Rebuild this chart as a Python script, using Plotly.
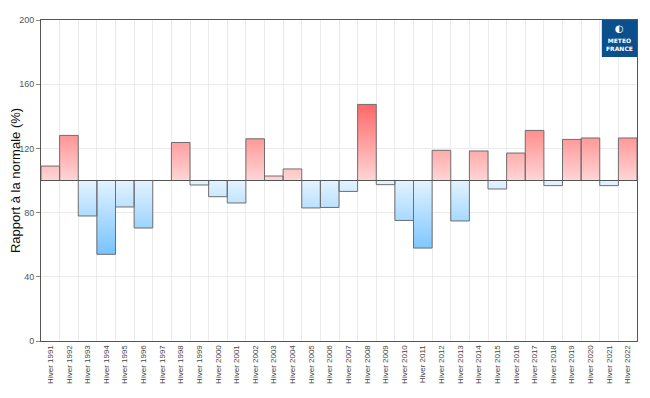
import plotly.graph_objects as go

years = list(range(1991, 2023))
labels = [f"Hiver {y}" for y in years]
values = [109.0, 128.1, 77.9, 54.0, 83.5, 70.4, 100.0, 123.7, 97.2, 89.9,
          86.0, 126.0, 102.8, 107.2, 82.9, 83.2, 93.2, 147.4, 97.4, 75.1,
          57.9, 118.8, 74.8, 118.4, 94.7, 117.1, 131.2, 96.8, 125.6, 126.5,
          96.8, 126.5]
normal = 100
y_ticks = [0, 40, 80, 120, 160, 200]


def polygons(pred):
    xs, ys = [], []
    for i, v in enumerate(values):
        if pred(v):
            xs += [i - 0.5, i - 0.5, i + 0.5, i + 0.5, i - 0.5, None]
            ys += [normal, v, v, normal, normal, None]
    return xs, ys


fig = go.Figure()

rx, ry = polygons(lambda v: v >= normal)
fig.add_trace(go.Scatter(
    x=rx, y=ry, mode="lines", fill="toself",
    line=dict(color="#6e6e6e", width=1),
    fillgradient=dict(type="vertical",
                      colorscale=[[0, "#ffd6d6"], [1, "#ff6262"]],
                      start=100, stop=150),
    hoverinfo="skip", showlegend=False))

bx, by = polygons(lambda v: v < normal)
fig.add_trace(go.Scatter(
    x=bx, y=by, mode="lines", fill="toself",
    line=dict(color="#6e6e6e", width=1),
    fillgradient=dict(type="vertical",
                      colorscale=[[0, "#6cbfff"], [1, "#e3f3ff"]],
                      start=50, stop=100),
    hoverinfo="skip", showlegend=False))

fig.add_shape(type="line", xref="paper", x0=0, x1=1, yref="y", y0=normal, y1=normal,
              line=dict(color="#555555", width=1))

# Logo
fig.add_shape(type="rect", xref="paper", yref="paper", x0=0.941, x1=1.0, y0=0.885, y1=1.0,
              fillcolor="#0b4f8c", line=dict(width=0), layer="above")
fig.add_annotation(xref="paper", yref="paper", x=0.9705, y=0.925, text="<b>METEO<br>FRANCE</b>",
                   showarrow=False, font=dict(family="DejaVu Sans", size=6, color="white"),
                   xanchor="center", yanchor="middle")
fig.add_annotation(xref="paper", yref="paper", x=0.9705, y=0.972, text="<b>◐</b>",
                   showarrow=False, font=dict(family="DejaVu Sans", size=10, color="white"),
                   xanchor="center", yanchor="middle")

fig.update_layout(
    width=642, height=390,
    margin=dict(l=33, r=13, t=12, b=57),
    paper_bgcolor="white", plot_bgcolor="white",
    font=dict(family="Liberation Sans, Arial, sans-serif", color="#333333"),
    xaxis=dict(
        range=[-0.5, len(values) - 0.5], automargin=False,
        tickmode="array", tickvals=list(range(len(values))), ticktext=labels,
        tickangle=-90, tickfont=dict(size=8, color="#444444"),
        showgrid=False, ticks="", zeroline=False,
        showline=True, linecolor="#555555", linewidth=1, mirror=True,
        minor=dict(tick0=0.5, dtick=1, showgrid=True, gridcolor="#ebebeb", gridwidth=1, ticks=""),
    ),
    yaxis=dict(
        range=[0, 200], tickmode="array", tickvals=y_ticks, automargin=False,
        tickfont=dict(size=9, color="#555555"),
        ticks="outside", ticklen=4, tickcolor="#888888",
        showgrid=True, gridcolor="#ebebeb", gridwidth=1, zeroline=False,
        showline=True, linecolor="#555555", linewidth=1, mirror=True,
        title=dict(text="Rapport à la normale (%)", font=dict(size=13, color="#111111"), standoff=1),
    ),
)

fig.write_html("out.html")
